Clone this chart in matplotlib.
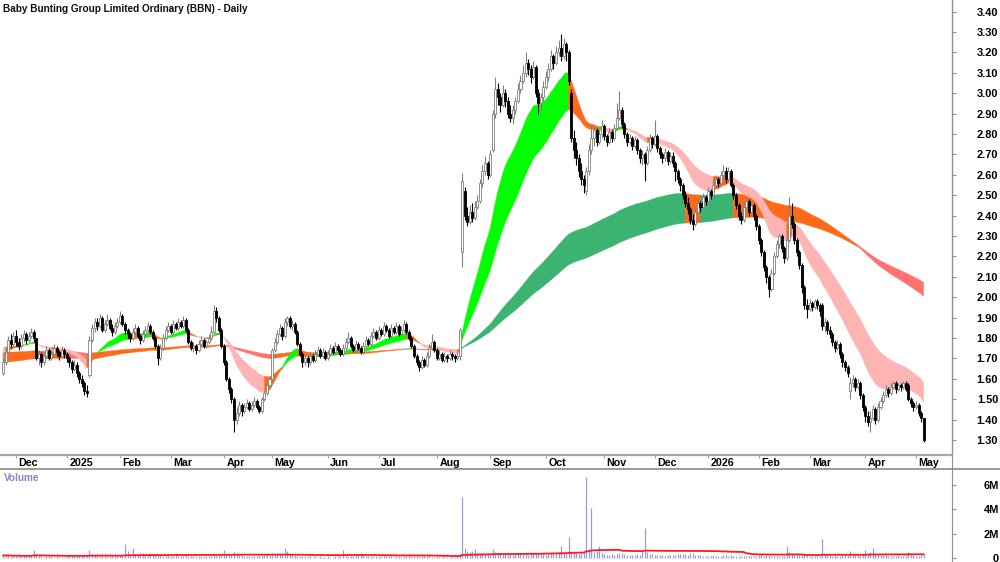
import numpy as np
import pandas as pd
import matplotlib
matplotlib.use("Agg")
import matplotlib.pyplot as plt
from matplotlib.lines import Line2D
import matplotlib.transforms as mtrans

plt.rcParams['font.family'] = ['Liberation Sans', 'DejaVu Sans']

TITLE = "Baby Bunting Group Limited Ordinary (BBN) - Daily"
MONTH_TICK_IDX = [5, 25, 46, 66, 87, 106, 128, 148, 171, 192, 214, 237, 257, 278, 298, 318, 340, 360]
MONTH_LABELS = ["Dec", "2025", "Feb", "Mar", "Apr", "May", "Jun", "Jul", "Aug", "Sep",
                "Oct", "Nov", "Dec", "2026", "Feb", "Mar", "Apr", "May"]
PRICE_TICKS = [1.30, 1.40, 1.50, 1.60, 1.70, 1.80, 1.90, 2.00, 2.10, 2.20, 2.30,
               2.40, 2.50, 2.60, 2.70, 2.80, 2.90, 3.00, 3.10, 3.20, 3.30, 3.40]
VOL_TICKS = [0, 2e6, 4e6, 6e6]
VOL_TICK_LABELS = ["0", "2M", "4M", "6M"]

# daily prices in cents
OPEN = [163,168,173,179,177,181,178,176,180,182, 179,181,183,180,170,172,168,171,174,170,
        172,175,173,171,174,172,170,168,165,167, 163,160,158,154,162,179,185,188,186,190,
        184,187,189,185,183,186,188,191,187,184, 182,180,183,185,181,179,182,184,186,183,
        180,176,170,175,180,184,186,183,187,185, 188,186,189,184,178,175,176,174,177,179,
        176,178,180,183,193,190,184,176,168,160, 155,150,140,143,147,144,146,148,145,147,
        149,146,144,150,153,157,160,174,178,182, 185,181,188,190,186,187,183,177,172,168,
        170,168,171,169,172,174,171,173,170,172, 175,173,176,174,172,175,178,180,176,174,
        177,175,173,176,179,177,181,183,180,184, 182,186,184,181,185,183,186,182,184,187,
        183,180,176,171,168,166,169,167,171,175, 178,174,170,172,169,171,170,172,171,170,
        171,222,252,240,237,242,239,244,247,256, 262,266,260,272,290,302,298,294,300,296,
        290,288,292,296,302,306,310,315,312,308, 313,300,295,298,303,308,312,318,315,320,
        322,318,324,320,300,278,272,268,262,258, 252,262,272,278,282,276,280,284,279,276,
        281,278,283,288,292,285,280,276,278,274, 277,272,268,270,266,272,278,275,279,273,
        270,268,271,267,269,266,262,258,255,250, 246,243,238,236,242,246,244,249,247,252,
        250,255,258,256,260,262,258,262,255,250, 245,240,238,244,247,242,245,240,235,228,
        222,215,210,204,212,220,226,230,224,219, 228,240,236,228,222,216,205,196,194,197,
        195,198,196,196,186,188,184,182,178,175, 177,172,168,166,154,158,160,156,158,152,
        146,142,139,141,145,140,146,149,152,155, 153,156,158,155,157,156,158,157,150,148,
        146,147,143,141]
HIGH = [170,176,181,182,183,184,180,182,184,183, 183,185,184,180,174,173,173,176,175,174,
        177,176,174,176,175,173,171,169,169,168, 164,162,159,157,181,187,190,190,192,191,
        189,192,190,187,188,190,193,192,188,185, 183,185,187,186,182,184,186,188,187,184,
        181,177,177,182,186,188,187,189,188,190, 189,191,190,185,179,178,177,179,181,180,
        179,182,186,196,195,191,185,177,169,161, 156,151,146,149,148,148,150,149,149,151,
        150,147,151,154,158,161,175,180,184,187, 186,190,191,191,189,188,184,178,173,172,
        171,173,172,174,176,175,175,174,174,177, 176,178,177,175,177,180,183,181,177,179,
        178,176,178,181,180,183,185,184,186,185, 188,187,185,187,186,188,187,186,189,188,
        184,181,177,172,169,171,170,173,177,182, 179,175,174,173,173,172,174,173,172,173,
        185,261,254,244,245,246,247,250,258,265, 269,267,272,292,308,305,300,304,302,298,
        294,294,298,305,309,314,320,317,314,316, 314,302,300,306,311,315,321,319,323,326,
        329,327,325,321,302,282,276,270,266,260, 264,275,285,284,283,282,287,285,280,283,
        282,285,295,301,293,286,281,280,279,279, 278,273,272,271,274,280,279,287,280,274,
        271,273,272,271,271,267,263,259,256,252, 249,244,241,244,248,247,251,250,254,253,
        257,260,259,262,265,264,264,263,256,251, 246,242,246,249,248,247,246,241,236,229,
        223,216,211,214,222,228,231,231,225,230, 249,246,237,229,223,217,206,199,199,198,
        199,199,197,197,190,189,186,183,179,179, 178,173,169,167,161,162,161,160,159,153,
        147,144,144,147,146,148,151,154,157,156, 158,159,159,158,158,159,159,158,151,149,
        149,148,144,141]
LOW = [162,167,172,175,176,176,174,175,178,177, 178,180,178,169,167,166,167,170,169,169,
       171,171,169,170,170,168,166,163,164,161, 158,156,152,151,161,178,183,184,185,183,
       183,186,184,181,182,185,187,186,182,180, 178,179,182,180,177,178,181,183,182,179,
       175,167,169,174,179,183,182,182,184,184, 185,185,183,177,174,173,172,173,176,175,
       175,177,179,182,188,183,175,167,159,153, 148,134,138,142,142,143,145,144,144,146,
       145,143,143,149,152,156,159,173,177,181, 179,180,186,185,184,182,176,171,166,167,
       166,167,168,168,171,170,170,169,169,171, 172,172,173,171,171,174,177,175,173,173,
       174,172,172,175,176,176,180,179,179,181, 181,183,180,180,182,182,181,181,183,182,
       179,175,170,167,164,165,166,166,170,174, 173,169,169,168,168,168,169,169,168,169,
       169,215,238,235,236,237,238,243,246,254, 260,258,259,271,288,294,291,293,293,288,
       286,285,290,295,300,305,308,309,305,307, 298,290,292,296,302,306,311,312,314,318,
       316,317,316,304,276,268,265,259,255,251, 250,260,270,274,274,275,278,277,274,275,
       276,277,282,287,283,278,274,275,272,273, 270,266,265,257,265,271,273,274,271,268,
       266,267,265,266,264,257,256,252,248,244, 241,236,233,235,241,242,243,245,246,248,
       249,254,254,255,259,256,257,254,248,243, 238,236,237,243,240,241,238,233,226,220,
       213,207,200,203,211,219,224,222,217,218, 227,234,226,220,214,202,194,190,193,193,
       194,194,191,184,183,182,180,176,173,174, 170,166,164,161,150,156,154,155,150,144,
       139,137,134,140,138,139,145,148,151,151, 152,155,153,154,154,155,154,149,146,144,
       145,142,139,129]
CLOSE = [168,173,179,177,181,178,176,180,182,179, 181,183,180,170,172,168,171,174,170,172,
         175,173,171,174,172,170,168,165,167,163, 160,158,154,153,179,185,188,186,190,184,
         187,189,185,183,186,188,191,187,184,182, 180,183,185,181,179,182,184,186,183,180,
         176,170,175,180,184,186,183,187,185,188, 186,189,184,178,175,176,174,177,179,176,
         178,180,183,193,190,184,176,168,160,155, 150,140,143,147,144,146,148,145,147,149,
         146,144,150,153,157,160,174,178,182,185, 181,188,190,186,187,183,177,172,168,170,
         168,171,169,172,174,171,173,170,172,175, 173,176,174,172,175,178,180,176,174,177,
         175,173,176,179,177,181,183,180,184,182, 186,184,181,185,183,186,182,184,187,183,
         180,176,171,168,166,169,167,171,175,178, 174,170,172,169,171,170,172,171,170,171,
         184,257,240,237,242,239,244,247,256,262, 266,260,270,290,302,298,294,300,296,290,
         288,292,296,302,306,310,315,312,308,313, 300,295,298,303,308,312,318,315,320,322,
         318,324,320,306,278,272,268,262,258,255, 262,272,278,282,276,280,284,279,276,281,
         278,283,288,292,285,280,276,278,274,277, 272,268,270,266,272,278,275,279,273,270,
         268,271,267,269,266,262,258,255,250,246, 243,238,236,242,246,244,249,247,252,250,
         255,258,256,260,262,258,262,255,250,245, 240,238,244,247,242,245,240,235,228,222,
         215,210,204,212,220,226,230,224,219,228, 240,236,228,222,216,205,196,194,197,195,
         198,196,193,186,188,184,182,178,175,177, 172,168,166,163,158,160,156,158,152,146,
         142,139,141,145,140,146,149,152,155,153, 156,158,155,157,156,158,155,150,148,146,
         147,143,141,130]
# daily volume in thousands of shares
VOLUME_K = [220,180,250,160,140,200,170,130,150,190, 160,140,660,310,180,150,120,140,170,130,
            110,150,90,80,120,160,140,130,180,150, 170,210,240,260,660,320,240,200,180,150,
            170,160,140,190,150,180,220,210,1150,600, 280,850,260,230,300,400,250,280,450,230,
            350,260,240,200,180,220,160,190,400,170, 150,180,210,190,160,140,130,170,150,180,
            140,190,230,300,260,280,240,660,350,300, 280,500,320,260,220,180,200,170,150,190,
            160,210,230,250,300,280,400,260,450,300, 350,850,550,320,260,240,200,180,160,150,
            140,130,120,150,110,130,100,120,140,90, 110,130,150,140,660,200,180,150,160,300,
            240,400,220,180,160,170,200,150,140,160, 130,170,150,140,120,160,130,110,140,150,
            170,200,190,160,150,170,180,200,140,120, 110,130,100,120,140,110,90,130,120,150,
            300,5000,800,600,500,550,700,400,450,350, 300,350,280,700,500,420,380,300,350,280,
            320,260,300,380,420,350,300,280,330,360, 420,380,300,350,280,320,400,300,350,380,
            1000,400,350,1700,600,450,400,350,450,500, 6700,700,4100,500,600,1000,400,300,250,280,
            300,260,350,400,380,300,250,280,220,260, 300,280,600,2500,500,350,300,260,240,220,
            250,200,230,260,240,280,300,320,350,300, 280,420,380,260,240,220,200,180,150,190,
            210,180,160,200,220,240,190,230,200,180, 160,170,150,180,140,160,200,180,220,240,
            200,250,230,180,200,160,150,170,200,1000, 500,450,300,400,280,250,300,220,200,180,
            160,200,180,1550,350,300,250,200,220,180, 200,250,230,260,600,300,250,280,220,300,
            650,400,500,800,350,300,280,250,220,200, 180,200,160,220,190,170,200,500,250,220,
            180,200,240,300]

# moving-average ribbons: EMA groups (fastest ... slowest) and their starting values
SHORT_EMA = [18, 22, 27, 31, 36]
SHORT_SEED = [1.74, 1.745, 1.75, 1.755, 1.76]
LONG_EMA = [135, 150, 165, 180, 200]
LONG_SEED = [1.68, 1.69, 1.70, 1.715, 1.73]
VOL_MA_LEN = 63

SHORT_COLORS = ["#00ff00", "#ffb4b4", "#ff6a1a"]   # bullish, bearish, mixed
LONG_COLORS = ["#3cb371", "#ff7272", "#ff6a1a"]

W, H = 1000, 562
fig = plt.figure(figsize=(10, 5.62), dpi=100)


def fy(px):
    return 1 - px / H


XL, XR = -1.30, 374.2
AX_R = 952 / W

ax = fig.add_axes([0, fy(455), AX_R, 455 / H])
axs = fig.add_axes([0, fy(469), AX_R, 14 / H])
axv = fig.add_axes([0, 0, AX_R, fy(469)])

o = np.array(OPEN) / 100.0
h = np.array(HIGH) / 100.0
l = np.array(LOW) / 100.0
c = np.array(CLOSE) / 100.0
vol = np.array(VOLUME_K) * 1000.0
n = len(c)
xi = np.arange(n)


def ema(series, period, seed):
    a = 2.0 / (period + 1)
    out = np.empty(len(series))
    prev = seed
    for i, v in enumerate(series):
        prev = prev + a * (v - prev)
        out[i] = prev
    return out


def ribbon(axis, periods, seeds, colors):
    lines = np.array([ema(c, p, s) for p, s in zip(periods, seeds)])
    fast, slow = lines[0], lines[-1]
    mean = lines.mean(axis=0)
    lo = lines.min(axis=0)
    hi = lines.max(axis=0)
    slope = np.r_[0.0, np.diff(mean)]
    state = np.where((fast > slow) & (slope >= 0), 0,
                     np.where((fast < slow) & (slope <= 0), 1, 2))
    for s, col in enumerate(colors):
        m = state == s
        m2 = m | np.r_[m[1:], False]
        if m2.any():
            axis.fill_between(xi, lo, hi, where=m2, facecolor=col, edgecolor=col,
                              linewidth=0.3, zorder=2)


ribbon(ax, LONG_EMA, LONG_SEED, LONG_COLORS)
ribbon(ax, SHORT_EMA, SHORT_SEED, SHORT_COLORS)

up = c >= o
grey = "#808080"
ax.vlines(xi[up], l[up], h[up], color=grey, lw=0.8, zorder=3)
ax.vlines(xi[~up], l[~up], h[~up], color="black", lw=0.8, zorder=3)
ax.bar(xi[up], (c - o)[up], bottom=o[up], width=0.8, facecolor="white",
       edgecolor=grey, linewidth=0.6, zorder=4)
ax.bar(xi[~up], (c - o)[~up], bottom=o[~up], width=0.8, facecolor="black",
       edgecolor="black", linewidth=0.6, zorder=4)

ax.set_xlim(XL, XR)
ax.set_ylim(1.30 + (440 - 455) / 204.0, 1.30 + 440 / 204.0)
ax.yaxis.tick_right()
ax.set_yticks(PRICE_TICKS)
ax.set_yticklabels([f"{t:.2f}" for t in PRICE_TICKS])
ax.set_xticks([])
TICK_FS = 7.9
ax.tick_params(axis="y", direction="out", length=3, width=0.8, color="#909090",
               pad=(997 - 952 - 3) * 0.72, labelsize=TICK_FS)
for lab in ax.get_yticklabels():
    lab.set_ha("right")
    lab.set_fontweight("bold")
for s in ["left", "top", "bottom"]:
    ax.spines[s].set_visible(False)
ax.spines["right"].set_color("#909090")
ax.spines["right"].set_linewidth(1.0)

# date strip
axs.set_xlim(XL, XR)
axs.set_ylim(0, 1)
axs.set_yticks([])
axs.set_xticks(MONTH_TICK_IDX)
axs.tick_params(axis="x", direction="in", length=2.5, width=0.8, color="#a0a0a0",
                top=True, bottom=False, labelbottom=False)
for s in ["left", "top", "bottom"]:
    axs.spines[s].set_visible(False)
axs.spines["right"].set_color("#909090")
trans = mtrans.offset_copy(axs.transData, fig=fig, x=2.5, y=0, units="dots")
for ti, lab in zip(MONTH_TICK_IDX, MONTH_LABELS):
    axs.text(ti, 0.45, lab, transform=trans, ha="left", va="center",
             fontsize=7.7, fontweight="bold", color="black")

fig.add_artist(Line2D([0, AX_R], [fy(455), fy(455)], color="#a8a8a8", lw=1.6))
fig.add_artist(Line2D([0, 1], [fy(469), fy(469)], color="#8a8a8a", lw=1.2))

# volume panel
axv.vlines(xi, 0, vol, color="#9a9ad8", lw=0.9, zorder=2)
vol_ma = pd.Series(vol).rolling(VOL_MA_LEN, min_periods=1).mean().values
axv.plot(xi, vol_ma, color="#ff1a1a", lw=1.3, zorder=3)
axv.set_xlim(XL, XR)
vpx = 12.15 / 1e6
axv.set_ylim(-(562 - 558) / vpx, (558 - 469) / vpx)
axv.yaxis.tick_right()
axv.set_yticks(VOL_TICKS)
axv.set_yticklabels(VOL_TICK_LABELS)
axv.set_xticks([])
axv.tick_params(axis="y", direction="out", length=3, width=0.8, color="#909090",
                pad=(998 - 952 - 3) * 0.72, labelsize=TICK_FS)
for lab in axv.get_yticklabels():
    lab.set_ha("right")
    lab.set_fontweight("bold")
for s in ["left", "top", "bottom"]:
    axv.spines[s].set_visible(False)
axv.spines["right"].set_color("#909090")

fig.text(4 / W, fy(478), "Volume", color="#8585c8", fontsize=7.2,
         fontweight="bold", va="center", ha="left")

t = fig.text(3 / W, fy(9), TITLE, fontsize=8.0, fontweight="bold",
             color="#111111", va="center", ha="left")
r = fig.canvas.get_renderer()
wpx = t.get_window_extent(r).width
t.set_fontsize(8.0 * 247.0 / wpx)

fig.savefig("out.png", dpi=100, facecolor="white")
